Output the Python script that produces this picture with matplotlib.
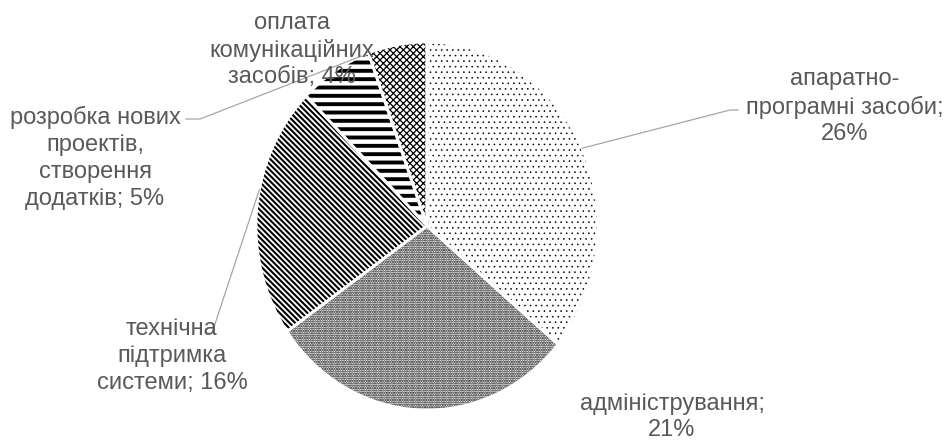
import numpy as np
import matplotlib
matplotlib.use('Agg')
import matplotlib.pyplot as plt

# Data
categories = ['апаратно-\nпрограмні засоби;',
              'адміністрування;',
              'технічна\nпідтримка\nсистеми;',
              'розробка нових\nпроектів,\nстворення\nдодатків;',
              'оплата\nкомунікаційних\nзасобів;']
values = [26, 21, 16, 5, 4]
hatches = ['...', '.......', '\\\\\\\\\\\\', '--', 'xxxxx']
hatch_widths = [0.4, 1.1, 1.5, 2.8, 0.9]

plt.rcParams['font.family'] = ['Liberation Sans', 'DejaVu Sans']
text_color = '#595959'
line_color = '#a6a6a6'

W, H = 953, 440
fig = plt.figure(figsize=(W / 100, H / 100), dpi=100)

# pie centre / radii in pixels (slightly taller than wide, like the reference)
cx, cy, rx, ry = 427, 226, 171, 184
ax = fig.add_axes([(cx - rx) / W, 1 - (cy + ry) / H, 2 * rx / W, 2 * ry / H])

wedges, _ = ax.pie(values, startangle=90, counterclock=False,
                   colors=['white'] * len(values),
                   wedgeprops=dict(edgecolor='black', linewidth=0))
for w, h, lw in zip(wedges, hatches, hatch_widths):
    w.set_hatch(h)
    if hasattr(w, 'set_hatch_linewidth'):
        w.set_hatch_linewidth(lw)

# white separators between slices
ax.pie(values, startangle=90, counterclock=False,
       wedgeprops=dict(facecolor='none', edgecolor='white', linewidth=2))

ax.set_aspect('auto')
ax.set_xlim(-1, 1)
ax.set_ylim(-1, 1)
ax.axis('off')


def to_data(px, py):
    return (px - cx) / rx, (cy - py) / ry


def edge_point(i, frac=0.5, r=1.0):
    w = wedges[i]
    ang = np.deg2rad(w.theta1 + frac * (w.theta2 - w.theta1))
    return r * np.cos(ang), r * np.sin(ang)


labels = [f'{c} {v}%' if i in (2, 3, 4) else f'{c}\n{v}%'
          for i, (c, v) in enumerate(zip(categories, values))]

# label centres in pixels
label_pos = [(845, 107), (672, 417), (172, 356), (95, 158), (292, 50)]
for txt, (px, py) in zip(labels, label_pos):
    x, y = to_data(px, py)
    ax.text(x, y, txt, ha='center', va='center', fontsize=17,
            color=text_color, linespacing=1.28, clip_on=False)

# leader lines: (slice, fraction along slice, text-side points)
leaders = [
    (0, 0.5, [(730, 110), (738, 110)]),
    (2, 0.42, [(212, 333), (205, 333)]),
    (3, 0.1, [(200, 119), (186, 119)]),
]
for i, frac, pts in leaders:
    ex, ey = edge_point(i, frac, 1.0)
    xs = [ex] + [to_data(*p)[0] for p in pts]
    ys = [ey] + [to_data(*p)[1] for p in pts]
    ax.plot(xs, ys, color=line_color, lw=0.9, clip_on=False)

fig.savefig('out.png', dpi=100)
